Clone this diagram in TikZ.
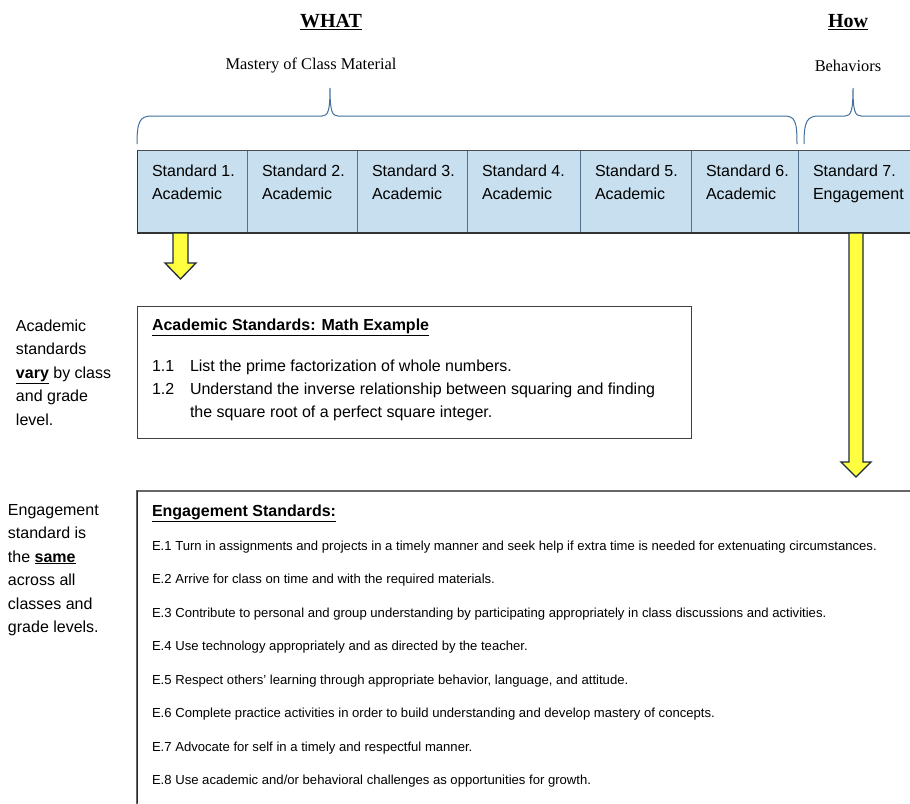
\documentclass[tikz,border=0pt]{standalone}
\usepackage{fontspec}
\setmainfont{Liberation Serif}
\setsansfont{Liberation Sans}
\definecolor{cellfill}{RGB}{199,223,238}
\definecolor{bracecol}{RGB}{65,113,156}
\definecolor{divcol}{RGB}{85,115,140}
\definecolor{arrowfill}{RGB}{255,255,64}
\definecolor{arrowline}{RGB}{30,42,56}
\begin{document}
\begin{tikzpicture}[x=1pt,y=-1pt,
  every node/.style={inner sep=0pt,outer sep=0pt},
  serifbig/.style={font=\fontsize{20}{24}\selectfont\bfseries},
  serifmid/.style={font=\fontsize{16.4}{20}\selectfont},
  sftext/.style={font=\fontsize{16}{20}\sffamily\selectfont,anchor=base west},
  sfitem/.style={font=\fontsize{16}{20}\sffamily\selectfont,anchor=base west},
  sfhead/.style={font=\fontsize{16}{20}\sffamily\bfseries\selectfont,anchor=base west},
  sfsmall/.style={font=\fontsize{13.1}{16}\sffamily\selectfont,anchor=base west},
  cellbox/.style={draw=divcol,line width=0.9pt,fill=cellfill,minimum height=83pt,anchor=north west},
  bracestyle/.style={draw=bracecol,line width=1pt},
  yarrow/.style={draw=arrowline,fill=arrowfill,line width=1.3pt,line join=miter},
  framebox/.style={draw=black!75,line width=1pt,anchor=north west}
]
\clip (0,0) rectangle (910,803);
\fill[white] (0,0) rectangle (910,803);

% titles
\node[serifbig] (what) at (331,22) {\underline{WHAT}};
\node[serifmid] (mastery) at (311,65.5) {Mastery of Class Material};
\node[serifbig] (how) at (848,22) {\underline{How}};
\node[serifmid] (behav) at (848,65.5) {Behaviors};

% braces
\draw[bracestyle] (137,144) .. controls (137,121) and (140,116) .. (152,116) -- (322,116)
  .. controls (328,116) and (330,111) .. (330,88) .. controls (330,111) and (332,116) .. (338,116)
  -- (784,116) .. controls (795,116) and (797,121) .. (797,144);
\draw[bracestyle] (804,144) .. controls (804,121) and (807,116) .. (819,116) -- (845,116)
  .. controls (851,116) and (853,111) .. (853,88) .. controls (853,111) and (855,116) .. (861,116)
  -- (930,116);

% standards row
\foreach \i/\xl/\w/\lab in {1/137/110/Academic,2/247/110/Academic,3/357/110/Academic,4/467/113/Academic,5/580/111/Academic,6/691/107/Academic,7/798/140/Engagement}{
  \node[cellbox,minimum width=\w pt] (s\i) at (\xl,150) {};
  \node[sftext] (s\i a) at ([xshift=15pt,yshift=-26pt]s\i.north west) {Standard \i.};
  \node[sftext] (s\i b) at ([xshift=15pt,yshift=-49pt]s\i.north west) {\lab};
}
\draw[draw=black!80,line width=1.2pt] (137,233) -- (930,233);
\draw[draw=black!70,line width=1pt] (137,150) -- (930,150);
\draw[draw=black!80,line width=1pt] (137,150) -- (137,233);

% yellow arrows
\draw[yarrow] (173,233) -- (188,233) -- (188,263) -- (196,263) -- (180.5,279) -- (165,263) -- (173,263) -- cycle;
\draw[yarrow] (849,233) -- (863,233) -- (863,462) -- (871,462) -- (856,477) -- (841,462) -- (849,462) -- cycle;

% left texts
\node[sftext] (l1) at (16,331) {Academic};
\node[sftext] (l2) at (16,354.5) {standards};
\node[sftext] (l3) at (16,378) {\textbf{\underline{vary}} by class};
\node[sftext] (l4) at (16,401.5) {and grade};
\node[sftext] (l5) at (16,425) {level.};

\node[sftext] (m1) at (8,515) {Engagement};
\node[sftext] (m2) at (8,538.5) {standard is};
\node[sftext] (m3) at (8,562) {the \textbf{\underline{same}}};
\node[sftext] (m4) at (8,585.5) {across all};
\node[sftext] (m5) at (8,609) {classes and};
\node[sftext] (m6) at (8,632.5) {grade levels.};

% academic box
\node[framebox,minimum width=554pt,minimum height=132pt] (abox) at (137,306) {};
\node[sfhead] (atitle) at (152,330.5) {\underline{Academic Standards: Math Example}};
\node[sfitem] (a11) at (152,371.5) {1.1};
\node[sfitem] (a11t) at (190,371.5) {List the prime factorization of whole numbers.};
\node[sfitem] (a12) at (152,394.5) {1.2};
\node[sfitem] (a12t) at (190,394.5) {Understand the inverse relationship between squaring and finding};
\node[sfitem] (a12u) at (190,417.5) {the square root of a perfect square integer.};

% engagement box
\node[framebox,draw=black!60,line width=1.4pt,minimum width=820pt,minimum height=340pt] (ebox) at (137,491) {};
\draw[draw=black!85,line width=1pt] (ebox.north west) -- (137,803);
\node[sfhead] (etitle) at (152,516.5) {\underline{Engagement Standards:}};
\foreach \i/\yy/\txt in {
 1/550.5/{Turn in assignments and projects in a timely manner and seek help if extra time is needed for extenuating circumstances.},
 2/583.5/{Arrive for class on time and with the required materials.},
 3/617/{Contribute to personal and group understanding by participating appropriately in class discussions and activities.},
 4/650.5/{Use technology appropriately and as directed by the teacher.},
 5/684/{Respect others’ learning through appropriate behavior, language, and attitude.},
 6/717.5/{Complete practice activities in order to build understanding and develop mastery of concepts.},
 7/751/{Advocate for self in a timely and respectful manner.},
 8/784/{Use academic and/or behavioral challenges as opportunities for growth.}}{
  \node[sfsmall] (e\i) at (152,\yy) {E.\i\ \txt};
}
\end{tikzpicture}
\end{document}
